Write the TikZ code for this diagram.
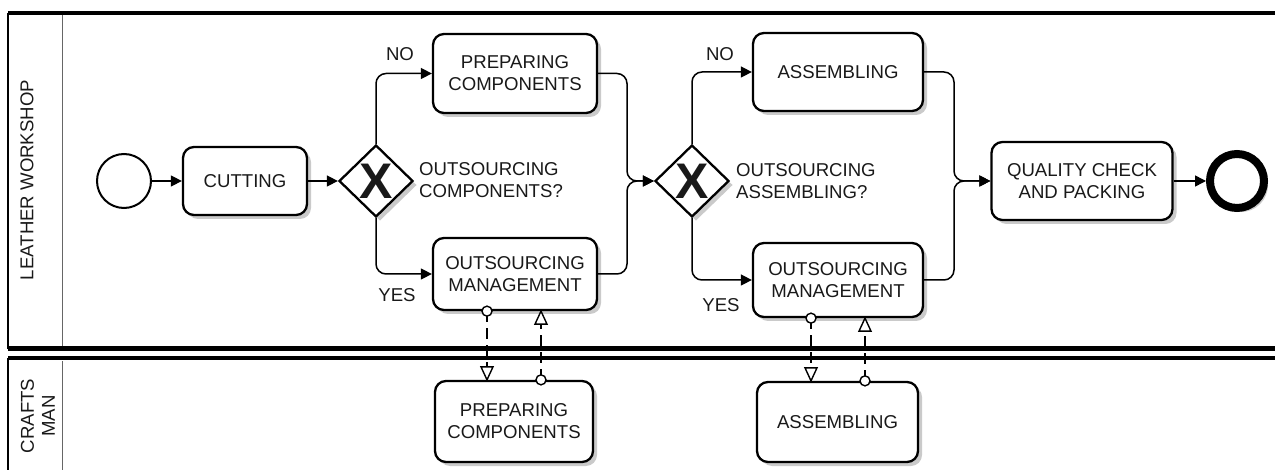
\documentclass[tikz,border=0pt]{standalone}
\usepackage{fontspec}
\setmainfont{Liberation Sans}
\usetikzlibrary{shapes.geometric,arrows.meta,shadows}
\begin{document}
\begin{tikzpicture}[x=1pt,y=-1pt,
  every node/.style={font=\fontsize{18.6}{22}\selectfont, text=black!90},
  shd/.style={drop shadow={shadow xshift=4pt, shadow yshift=-4pt, fill=black!35, opacity=.6}},
  task/.style={draw, line width=2.3pt, rounded corners=11pt, fill=white, align=center, inner sep=2pt, shd},
  gate/.style={draw, diamond, line width=2.3pt, fill=white, inner sep=0pt, minimum width=74pt, minimum height=72pt,
     font=\fontsize{50}{50}\selectfont\bfseries, shd},
  startev/.style={draw, circle, line width=2pt, fill=white, minimum size=54pt, inner sep=0pt},
  endev/.style={draw, circle, line width=8pt, fill=white, minimum size=54pt, inner sep=0pt, shd},
  flow/.style={line width=1.5pt, -{Triangle[length=11pt,width=11pt]}, rounded corners=10pt},
  msgline/.style={line width=1.4pt, dash pattern=on 11pt off 6pt},
  msgtip/.style={line width=1.4pt, fill=white},
  lbl/.style={inner sep=0pt},
]
\useasboundingbox (0,0) rectangle (1275,470);
% pools
\draw[line width=3.8pt] (8,13.3) -- (1275,13.3);
\draw[line width=4.5pt] (8,348.5) -- (1275,348.5);
\draw[line width=4pt] (8,358.5) -- (1275,358.5);
\draw[line width=1.8pt] (8,13) -- (8,349);
\draw[line width=1.8pt] (8,358) -- (8,470);
\draw[line width=1pt, black!60] (62,15) -- (62,346);
\draw[line width=1pt, black!60] (62,361) -- (62,470);
\node[rotate=90] (lane1) at (27,180) {LEATHER WORKSHOP};
\node[rotate=90, align=center, font=\fontsize{18.6}{21}\selectfont] (lane2) at (38,416) {CRAFTS\\MAN};

% nodes
\node[startev] (start) at (124,181) {};
\node[task, minimum width=124pt, minimum height=68pt] (cut) at (245,181) {CUTTING};
\node[gate] (gw1) at (376,181) {X};
\node[task, minimum width=164pt, minimum height=79pt] (prep1) at (515,73.5) {PREPARING\\COMPONENTS};
\node[task, minimum width=164pt, minimum height=72pt] (mgmt1) at (515,274) {OUTSOURCING\\MANAGEMENT};
\node[gate] (gw2) at (692,181) {X};
\node[task, minimum width=170pt, minimum height=78pt] (asm1) at (838,72) {ASSEMBLING};
\node[task, minimum width=170pt, minimum height=74pt] (mgmt2) at (838,280) {OUTSOURCING\\MANAGEMENT};
\node[task, minimum width=181pt, minimum height=78pt] (qc) at (1082,181) {QUALITY CHECK\\AND PACKING};
\node[endev] (end) at (1237,181) {};
\node[task, minimum width=158pt, minimum height=81pt] (prep2) at (514,421.5) {PREPARING\\COMPONENTS};
\node[task, minimum width=161pt, minimum height=80pt] (asm2) at (837.5,422) {ASSEMBLING};

% labels
\node[lbl, anchor=west, align=left] (q1) at (419,180) {OUTSOURCING\\COMPONENTS?};
\node[lbl, anchor=west, align=left] (q2) at (736,181) {OUTSOURCING\\ASSEMBLING?};
\node[lbl] (no1) at (400,54) {NO};
\node[lbl] (yes1) at (397,295) {YES};
\node[lbl] (no2) at (720,54) {NO};
\node[lbl] (yes2) at (721,305) {YES};

\coordinate (j1) at (627,181);
\coordinate (j2) at (954,181);

% sequence flows
\draw[flow] (start) -- (cut);
\draw[flow] (cut) -- (gw1);
\draw[flow] (gw1.north) |- (prep1.west);
\draw[flow] (gw1.south) |- (mgmt1.west);
\draw[flow] (prep1.east) -| (j1) -- (gw2.west);
\draw[flow] (mgmt1.east) -| (j1) -- (gw2.west);
\draw[flow] (gw2.north) |- (asm1.west);
\draw[flow] (gw2.south) |- (mgmt2.west);
\draw[flow] (asm1.east) -| (j2) -- (qc.west);
\draw[flow] (mgmt2.east) -| (j2) -- (qc.west);
\draw[flow] (qc) -- (end);

% message flows
\coordinate (a1) at ([xshift=-28pt]mgmt1.south);
\coordinate (b1) at (a1 |- prep2.north);
\coordinate (c1) at ([xshift=27pt]prep2.north);
\coordinate (d1) at (c1 |- mgmt1.south);
\coordinate (a2) at ([xshift=-27pt]mgmt2.south);
\coordinate (b2) at (a2 |- asm2.north);
\coordinate (c2) at ([xshift=27.5pt]asm2.north);
\coordinate (d2) at (c2 |- mgmt2.south);
\foreach \s/\t in {a1/b1,c1/d1,a2/b2,c2/d2}{
  \draw[msgline] (\s) -- (\t);
  \draw[msgtip] (\s) circle[radius=5];
}
\foreach \t in {b1,b2}{\draw[msgtip] (\t) -- ++(-6,-13) -- ++(12,0) -- cycle;}
\foreach \t in {d1,d2}{\draw[msgtip] (\t) -- ++(-6,13) -- ++(12,0) -- cycle;}
\end{tikzpicture}
\end{document}
